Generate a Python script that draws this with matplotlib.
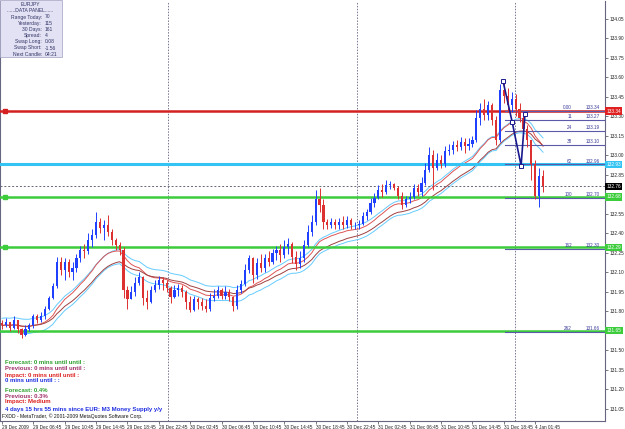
import numpy as np
import pandas as pd
import matplotlib
matplotlib.use("Agg")
import matplotlib.pyplot as plt
from matplotlib.patches import Rectangle
import matplotlib.transforms as mtransforms

# ---------------- data ----------------
first_open = 131.71
close = [131.69,131.72,131.67,131.73,131.66,131.62,131.66,131.69,131.76,131.73,
131.76,131.82,131.90,131.99,132.18,132.12,132.18,132.10,132.13,132.21,
132.27,132.26,132.35,132.39,132.49,132.44,132.46,132.41,132.35,132.31,
132.27,131.96,131.89,131.95,132.02,132.06,131.90,131.87,131.96,132.00,
132.04,132.02,131.98,131.91,131.96,131.98,131.95,131.87,131.81,131.89,
131.87,131.84,131.82,131.90,131.92,131.96,131.92,131.95,131.91,131.84,
131.96,132.01,132.12,132.21,132.08,132.17,132.13,132.21,132.18,132.25,
132.27,132.23,132.29,132.32,132.22,132.16,132.21,132.31,132.41,132.49,
132.66,132.62,132.49,132.46,132.49,132.46,132.49,132.46,132.50,132.46,
132.46,132.47,132.53,132.56,132.63,132.67,132.73,132.72,132.77,132.78,
132.75,132.69,132.62,132.66,132.68,132.75,132.72,132.79,132.89,133.00,
132.90,132.96,132.93,133.03,133.04,133.08,133.06,133.10,133.07,133.09,
133.12,133.29,133.36,133.31,133.39,133.27,133.12,133.50,133.46,133.39,
133.43,133.36,133.29,133.20,133.12,132.93,132.69,132.84,132.76]
high = [131.73,131.75,131.72,131.76,131.72,131.67,131.69,131.71,131.78,131.78,
131.79,131.84,131.92,132.02,132.22,132.22,132.21,132.20,132.18,132.24,
132.30,132.32,132.40,132.43,132.56,132.52,132.50,132.54,132.43,132.36,
132.33,132.29,131.99,131.99,132.06,132.10,132.07,131.96,131.99,132.04,
132.07,132.06,132.04,131.99,132.00,132.01,132.00,131.96,131.92,131.92,
131.91,131.90,131.89,131.94,131.97,131.99,131.98,131.99,131.97,131.92,
132.00,132.04,132.16,132.23,132.22,132.21,132.24,132.24,132.26,132.28,
132.30,132.32,132.35,132.36,132.33,132.26,132.26,132.35,132.46,132.54,
132.73,132.75,132.66,132.51,132.52,132.51,132.52,132.53,132.53,132.52,
132.49,132.50,132.56,132.59,132.67,132.71,132.77,132.78,132.81,132.80,
132.79,132.76,132.72,132.69,132.72,132.78,132.78,132.83,132.94,133.06,
133.04,133.02,133.00,133.07,133.09,133.11,133.12,133.14,133.13,133.13,
133.15,133.35,133.40,133.43,133.42,133.40,133.30,133.55,133.58,133.52,
133.49,133.47,133.40,133.33,133.23,133.12,132.96,132.90,132.89]
low = [131.66,131.68,131.65,131.66,131.63,131.59,131.61,131.65,131.67,131.71,
131.72,131.74,131.81,131.89,131.98,132.08,132.04,132.06,132.04,132.10,
132.18,132.21,132.24,132.29,132.36,132.40,132.35,132.38,132.31,132.27,
132.23,131.90,131.82,131.90,131.92,132.00,131.85,131.82,131.86,131.95,
131.97,131.96,131.95,131.86,131.90,131.92,131.91,131.82,131.79,131.80,
131.82,131.81,131.79,131.80,131.88,131.90,131.89,131.89,131.88,131.80,
131.82,131.94,131.99,132.09,132.02,132.05,132.10,132.10,132.15,132.16,
132.19,132.18,132.21,132.24,132.17,132.12,132.13,132.18,132.29,132.38,
132.46,132.56,132.43,132.43,132.44,132.43,132.43,132.43,132.44,132.43,
132.43,132.43,132.46,132.50,132.55,132.60,132.66,132.68,132.70,132.74,
132.73,132.66,132.59,132.60,132.63,132.66,132.69,132.69,132.77,132.87,
132.73,132.89,132.90,132.91,133.00,133.01,133.03,133.04,133.02,133.04,
133.06,133.10,133.23,133.27,133.27,133.23,133.08,133.10,133.40,133.33,
133.33,133.30,133.26,133.14,133.06,132.81,132.66,132.60,132.72]

time_idx = [0, 8, 16, 24, 32, 40, 48, 56, 64, 72, 80, 88, 96, 104, 112, 120, 128, 136]
time_labels = ["29 Dec 2009", "29 Dec 06:45", "29 Dec 10:45", "29 Dec 14:45", "29 Dec 18:45",
               "29 Dec 22:45", "30 Dec 02:45", "30 Dec 06:45", "30 Dec 10:45", "30 Dec 14:45",
               "30 Dec 18:45", "30 Dec 22:45", "31 Dec 02:45", "31 Dec 06:45", "31 Dec 10:45",
               "31 Dec 14:45", "31 Dec 18:45", "4 Jan 01:45"]
day_separators = [42.3, 90.6, 130.9]

red_level = 133.34
cyan_level = 132.93
bid_price = 132.76
green_levels = [132.68, 132.29, 131.65]

fib_levels = [133.34, 133.27, 133.19, 133.08, 132.93, 132.67, 132.28, 131.64]
fib_names = ["0.00", "11", "24", "38", "62", "100", "162", "262"]
fib_texts = ["133.34", "133.27", "133.19", "133.10", "132.96", "132.70", "132.30", "131.66"]
fib_start = 128.3

zz_x = [127.8, 130.1, 132.4, 133.4]
zz_p = [133.57, 133.26, 132.92, 133.32]

panel_title = "EURJPY"
panel_labels = ["Range Today:", "Yesterday:", "30 Days:", "Spread:", "Swap Long:", "Swap Short:", "Next Candle:"]
panel_values = ["70", "115", "161", "4", "0.08", "-1.56", "04:21"]

news_lines = [("Forecast: 0 mins until until :", "#2ea02e"),
              ("Previous: 0 mins until until :", "#a0306a"),
              ("Impact: 0 mins until until :", "#dd2020"),
              ("0 mins until until : :", "#2030e0"),
              ("Forecast: 0.4%", "#2ea02e"),
              ("Previous: 0.3%", "#a0306a"),
              ("Impact: Medium", "#dd2020"),
              ("4 days 15 hrs 55 mins since EUR: M3 Money Supply y/y", "#2030e0")]
copyright_text = "FXDD - MetaTrader, \u00a9 2001-2009 MetaQuotes Software Corp."

# ---------------- figure ----------------
W, H = 625, 429
FONT = "Liberation Sans"
fig = plt.figure(figsize=(W / 100, H / 100), dpi=100)
fig.patch.set_facecolor("white")

def fx(px):
    return px / W

def fy(py):
    return 1 - py / H

ax = fig.add_axes([fx(0), fy(421), fx(605), (421 - 1) / H])
ax.set_facecolor("white")

c = np.array(close)
h = np.array(high)
l = np.array(low)
o = np.r_[first_open, c[:-1]]
x = np.arange(len(c))

ax.set_xlim(-0.5, 153.8)
ax.set_ylim(130.954, 134.188)

# moving averages / envelopes
s = pd.Series(c)
ema_fast = s.ewm(span=16, adjust=False).mean()
ema_slow = s.ewm(span=24, adjust=False).mean()
ema_mid = s.ewm(span=20, adjust=False).mean()
ax.plot(x, ema_mid + 0.055, color="#66ccff", lw=0.7, zorder=2)
ax.plot(x, ema_mid - 0.055, color="#66ccff", lw=0.7, zorder=2)
ax.plot(x, ema_fast, color="#dd5555", lw=0.7, zorder=2)
ax.plot(x, ema_slow, color="#a04040", lw=0.7, zorder=2)

# horizontal levels
ax.axhline(red_level, color="#d42020", lw=1.8, zorder=3)
ax.plot([0.8], [red_level], marker="s", ms=2.5, color="#d42020", zorder=4)
ax.axhline(cyan_level, color="#33c4f4", lw=2.2, zorder=3)
ax.axhline(bid_price, color="#666677", lw=0.7, ls=(0, (2, 2)), zorder=3)
for i, g in enumerate(green_levels):
    ax.axhline(g, color="#3ccc3c", lw=1.8, zorder=3)
    if i < 2:
        ax.plot([0.8], [g], marker="s", ms=2.5, color="#3ccc3c", zorder=4)

# day separators
for d in day_separators:
    ax.axvline(d, color="#777790", lw=0.7, ls=(0, (1.5, 1.5)), zorder=1)

# candles
BLUE, RED = "#2040ff", "#dd3030"
up = c >= o
cols = np.where(up, BLUE, RED)
wick_lo = np.minimum(l, np.minimum(o, c))
wick_hi = np.maximum(h, np.maximum(o, c))
ax.vlines(x, wick_lo, wick_hi, colors=cols, lw=0.7, zorder=5)
body_b = np.minimum(o, c)
body_h = np.maximum(np.abs(c - o), 0.004)
ax.bar(x, body_h, bottom=body_b, width=0.55, color=cols, linewidth=0, zorder=5)

# fibonacci lines
trans = mtransforms.blended_transform_factory(ax.transAxes, ax.transData)
for lv, nm, tx in zip(fib_levels, fib_names, fib_texts):
    ax.plot([fib_start, 153.8], [lv, lv], color="#5a5aa8", lw=0.8, zorder=4)
    ax.text(572 / 605, lv + 0.006, nm, transform=trans, ha="right", va="bottom",
            fontsize=3.3, color="#3a3a9a", family=FONT, zorder=6)
    ax.text(600 / 605, lv + 0.006, tx, transform=trans, ha="right", va="bottom",
            fontsize=3.3, color="#3a3a9a", family=FONT, zorder=6)

# zigzag
ax.plot(zz_x, zz_p, color="#1a1a90", lw=1.2, zorder=7)
ax.plot(zz_x, zz_p, ls="none", marker="s", ms=2.2, mfc="white", mec="#1a1a90", mew=0.7, zorder=8)

# axes styling
for sp in ["top", "left"]:
    ax.spines[sp].set_visible(False)
ax.spines["right"].set_color("#666680")
ax.spines["bottom"].set_color("#666680")
ax.spines["right"].set_linewidth(0.8)
ax.spines["bottom"].set_linewidth(0.8)
ax.plot([0, 0], [0, 1], transform=ax.transAxes, color="#666680", lw=0.8, clip_on=False)

box_prices = [red_level, cyan_level, bid_price] + green_levels
yt = np.round(np.arange(131.05, 134.051, 0.15), 2)
ax.yaxis.tick_right()
ax.set_yticks(yt)
ytl = [("" if min(abs(v - b) for b in box_prices) < 0.03 else f"{v:.2f}") for v in yt]
ax.set_yticklabels(ytl, fontsize=3.4, family=FONT, color="#222222")
ax.tick_params(axis="y", length=2, width=0.5, pad=1.5, colors="#444444")
ax.set_xticks(time_idx)
ax.set_xticklabels(time_labels, fontsize=3.4, family=FONT, color="#222222", ha="left")
ax.tick_params(axis="x", length=2, width=0.5, pad=1.0, colors="#444444")
for lab in ax.get_xticklabels():
    lab.set_color("#222222")
for lab in ax.get_yticklabels():
    lab.set_color("#222222")

# right axis colored price boxes
def price_box(price, color, txtcolor="white"):
    ax.text(1.0025, price, f"{price:.2f}", transform=trans, ha="left", va="center",
            fontsize=3.4, family=FONT, color=txtcolor, zorder=10, clip_on=False,
            bbox=dict(boxstyle="square,pad=0.25", fc=color, ec=color, lw=0))

price_box(red_level, "#e02020")
price_box(cyan_level, "#33c4f4")
price_box(bid_price, "#000000")
for g in green_levels:
    price_box(g, "#3ccc3c")

# data panel
fig.patches.append(Rectangle((fx(0), fy(57)), fx(62), 57 / H, transform=fig.transFigure,
                             facecolor="#e2e2f4", edgecolor="#a0a0c0", lw=0.5, zorder=20))
fig.text(fx(30), fy(4), panel_title, ha="center", va="center", fontsize=3.6, family=FONT,
         color="#333366", zorder=21)
fig.text(fx(30), fy(10), "......DATA PANEL......", ha="center", va="center", fontsize=3.6,
         family=FONT, color="#333366", zorder=21)
for k, (lab, val) in enumerate(zip(panel_labels, panel_values)):
    yy = 17 + k * 6.2
    fig.text(fx(42), fy(yy), lab, ha="right", va="center", fontsize=3.6, family=FONT,
             color="#333366", zorder=21)
    fig.text(fx(45), fy(yy), val, ha="left", va="center", fontsize=3.6, family=FONT,
             color="#333366", zorder=21)

# news text
news_y = [362, 369, 375, 381, 390, 396, 402, 409]
for (txt, col), yy in zip(news_lines, news_y):
    fig.text(fx(5), fy(yy), txt, ha="left", va="center", fontsize=4.3, family=FONT,
             weight="bold", color=col, zorder=21)
fig.text(fx(2), fy(416), copyright_text, ha="left", va="center", fontsize=3.6, family=FONT,
         color="#111111", zorder=21)

fig.savefig("out.png", dpi=100, facecolor="white")
